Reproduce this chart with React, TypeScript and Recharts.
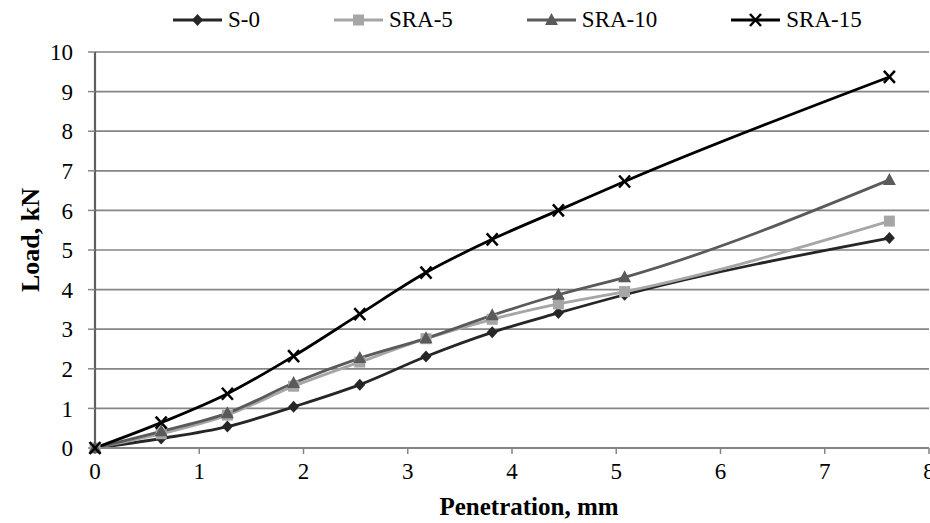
import { LineChart, Line, XAxis, YAxis, CartesianGrid } from "recharts";

const penetration = [0, 0.635, 1.27, 1.905, 2.54, 3.175, 3.81, 4.445, 5.08, 7.62];
const s0 = [0, 0.24, 0.54, 1.04, 1.6, 2.31, 2.92, 3.41, 3.87, 5.3];
const sra5 = [0, 0.36, 0.83, 1.56, 2.17, 2.76, 3.25, 3.64, 3.95, 5.73];
const sra10 = [0, 0.42, 0.88, 1.64, 2.27, 2.77, 3.35, 3.87, 4.31, 6.77];
const sra15 = [0, 0.64, 1.37, 2.32, 3.38, 4.43, 5.27, 6.0, 6.73, 9.37];

const xTicks = [0, 1, 2, 3, 4, 5, 6, 7, 8];
const yTicks = [0, 1, 2, 3, 4, 5, 6, 7, 8, 9, 10];

const SERIES = [
  { key: "s0", name: "S-0", color: "#262626", shape: "diamond" },
  { key: "sra5", name: "SRA-5", color: "#a6a6a6", shape: "square" },
  { key: "sra10", name: "SRA-10", color: "#5a5a5a", shape: "triangle" },
  { key: "sra15", name: "SRA-15", color: "#000000", shape: "cross" },
];

const data = penetration.map((x, i) => ({
  x,
  s0: s0[i],
  sra5: sra5[i],
  sra10: sra10[i],
  sra15: sra15[i],
}));

const FONT = "Liberation Serif, Times New Roman, serif";

function Marker({ cx, cy, shape, color }: any) {
  if (cx == null || cy == null) return null;
  if (shape === "diamond") {
    return (
      <path
        d={`M${cx},${cy - 6}L${cx + 5.5},${cy}L${cx},${cy + 6}L${cx - 5.5},${cy}Z`}
        fill={color}
      />
    );
  }
  if (shape === "square") {
    return <rect x={cx - 5.5} y={cy - 5.5} width={11} height={11} fill={color} />;
  }
  if (shape === "triangle") {
    return (
      <path
        d={`M${cx},${cy - 7}L${cx + 6.5},${cy + 5}L${cx - 6.5},${cy + 5}Z`}
        fill={color}
      />
    );
  }
  return (
    <g stroke={color} strokeWidth={2.5}>
      <line x1={cx - 5.5} y1={cy - 6} x2={cx + 5.5} y2={cy + 6} />
      <line x1={cx - 5.5} y1={cy + 6} x2={cx + 5.5} y2={cy - 6} />
    </g>
  );
}

function LegendRow() {
  return (
    <div
      style={{
        position: "absolute",
        left: 173,
        top: 6,
        display: "flex",
        alignItems: "center",
        gap: 74,
        fontFamily: FONT,
        fontSize: 23,
        lineHeight: "28px",
        whiteSpace: "nowrap",
      }}
    >
      {SERIES.map((s) => (
        <div key={s.key} style={{ display: "flex", alignItems: "center" }}>
          <svg width={49} height={16} style={{ marginRight: 6 }}>
            <line x1={0} y1={8} x2={49} y2={8} stroke={s.color} strokeWidth={3} />
            <Marker cx={24.5} cy={8} shape={s.shape} color={s.color} />
          </svg>
          <span>{s.name}</span>
        </div>
      ))}
    </div>
  );
}

export default function App() {
  return (
    <div
      style={{
        position: "absolute",
        left: 0,
        top: 0,
        width: 930,
        height: 523,
        background: "#fff",
        overflow: "hidden",
      }}
    >
      <LineChart
        width={930}
        height={523}
        data={data}
        margin={{ top: 52, right: 1, bottom: 0, left: 0 }}
      >
        <CartesianGrid vertical={false} stroke="#858585" strokeWidth={1.7} />
        <XAxis
          dataKey="x"
          type="number"
          domain={[0, 8]}
          ticks={xTicks}
          height={75}
          tickSize={6}
          tickMargin={9}
          axisLine={{ stroke: "#858585", strokeWidth: 2 }}
          tickLine={{ stroke: "#858585", strokeWidth: 1.5 }}
          tick={{ fill: "#000", fontFamily: FONT, fontSize: 23 }}
          interval={0}
          label={{
            content: ({ viewBox }: any) => (
              <text
                x={viewBox.x + viewBox.width / 2 + 17}
                y={viewBox.y + 67}
                textAnchor="middle"
                fontFamily={FONT}
                fontSize={25}
                fontWeight="bold"
                fill="#000"
              >
                Penetration, mm
              </text>
            ),
          }}
        />
        <YAxis
          type="number"
          domain={[0, 10]}
          ticks={yTicks}
          width={95}
          tickSize={7}
          tickMargin={15}
          axisLine={{ stroke: "#606060", strokeWidth: 2.2 }}
          tickLine={{ stroke: "#858585", strokeWidth: 1.5 }}
          tick={{ fill: "#000", fontFamily: FONT, fontSize: 23 }}
          interval={0}
          label={{
            content: ({ viewBox }: any) => {
              const cx = 30;
              const cy = viewBox.y + 188;
              return (
                <text
                  x={cx}
                  y={cy}
                  transform={`rotate(-90, ${cx}, ${cy})`}
                  textAnchor="middle"
                  dominantBaseline="central"
                  fontFamily={FONT}
                  fontSize={26}
                  fontWeight="bold"
                  fill="#000"
                >
                  Load, kN
                </text>
              );
            },
          }}
        />
        {SERIES.map((s) => (
          <Line
            key={s.key}
            dataKey={s.key}
            name={s.name}
            type="monotone"
            stroke={s.color}
            strokeWidth={2.8}
            isAnimationActive={false}
            dot={(p: any) => (
              <Marker
                key={`${s.key}-${p.index}`}
                cx={p.cx}
                cy={p.cy}
                shape={s.shape}
                color={s.color}
              />
            )}
            activeDot={false}
          />
        ))}
      </LineChart>
      <LegendRow />
    </div>
  );
}
